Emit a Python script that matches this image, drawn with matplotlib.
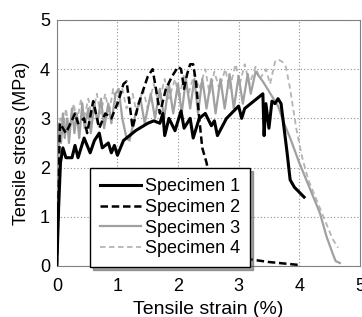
import matplotlib
matplotlib.use("Agg")
import matplotlib.pyplot as plt

plt.rcParams["font.family"] = ["Liberation Sans", "DejaVu Sans"]

# Specimen 1 (solid black)
s1_x = [0, 0.03, 0.06, 0.1, 0.15, 0.25, 0.3, 0.35, 0.45, 0.55, 0.62, 0.7, 0.75, 0.85,
        0.9, 0.95, 1.0, 1.1, 1.3, 1.5, 1.6, 1.7, 1.75, 1.78, 1.85, 1.95, 2.05, 2.1, 2.2,
        2.25, 2.35, 2.45, 2.55, 2.6, 2.65, 2.8, 3.0, 3.05, 3.1, 3.3, 3.4, 3.42, 3.45,
        3.5, 3.55, 3.6, 3.65, 3.7, 3.75, 3.8, 3.85, 3.92, 4.0, 4.08]
s1_y = [0, 1.2, 2.1, 2.4, 2.2, 2.2, 2.45, 2.2, 2.6, 2.3, 2.55, 2.7, 2.4, 2.5,
        2.3, 2.45, 2.25, 2.55, 2.75, 2.9, 2.95, 2.9, 3.1, 2.65, 3.0, 2.75, 3.15, 2.8, 3.0,
        2.6, 3.0, 3.1, 2.85, 2.95, 2.65, 3.0, 3.25, 3.0, 3.2, 3.4, 3.5, 2.65, 3.3,
        2.8, 3.35, 3.3, 3.4, 3.3, 2.8, 2.3, 1.75, 1.6, 1.5, 1.4]

# Specimen 2 (dashed black)
s2_x = [0, 0.03, 0.05, 0.15, 0.3, 0.35, 0.45, 0.5, 0.6, 0.7, 0.8, 0.9, 1.0, 1.1,
        1.15, 1.2, 1.25, 1.35, 1.5, 1.58, 1.65, 1.7, 1.8, 1.9, 2.0, 2.05, 2.1, 2.15,
        2.2, 2.25, 2.3, 2.35, 2.4, 2.47, 2.6, 2.75, 2.9, 3.1, 3.5, 4.0]
s2_y = [0, 1.5, 2.9, 2.7, 3.1, 2.9, 3.0, 2.7, 3.35, 2.8, 3.1, 3.0, 3.3, 3.7,
        3.75, 3.3, 2.8, 3.3, 3.85, 4.0, 3.5, 3.1, 3.6, 3.85, 4.05, 4.0, 3.6, 3.9,
        4.1, 4.1, 3.7, 3.0, 2.4, 2.1, 1.3, 0.6, 0.3, 0.15, 0.08, 0.02]

# Specimen 3 (grey solid)
s3_x = [0, 0.02, 0.04, 0.07, 0.1, 0.13, 0.17, 0.2, 0.25, 0.29, 0.33, 0.37, 0.42,
        0.46, 0.52, 0.56, 0.62, 0.67, 0.73, 0.78, 0.85, 0.9, 0.97, 1.02, 1.08, 1.15,
        1.2, 1.3, 1.38, 1.45, 1.55, 1.62, 1.7, 1.77, 1.85, 1.92, 2.0, 2.06, 2.13, 2.2,
        2.27, 2.33, 2.4, 2.47, 2.55, 2.62, 2.7, 2.77, 2.85, 2.92, 3.0, 3.07, 3.15,
        3.2, 3.28, 3.4, 3.55, 3.65, 3.75, 3.85, 4.0, 4.15, 4.34, 4.45, 4.55, 4.6, 4.67]
s3_y = [0, 2.0, 2.9, 2.5, 3.1, 2.6, 3.0, 2.5, 3.2, 2.7, 3.1, 2.6, 3.3,
        2.8, 3.2, 2.7, 3.3, 2.9, 3.4, 2.8, 3.3, 2.9, 3.5, 3.6, 3.0, 2.6,
        2.55, 3.1, 3.4, 2.9, 3.5, 3.0, 3.6, 3.0, 3.7, 3.1, 3.7, 3.1, 3.8, 3.2,
        3.8, 3.1, 3.8, 3.2, 3.8, 3.1, 3.8, 3.2, 3.9, 3.2, 3.85, 3.3, 3.9,
        3.5, 3.95, 3.75, 3.45, 3.25, 2.9, 2.6, 2.1, 1.65, 1.08, 0.6, 0.26, 0.1, 0.06]

# Specimen 4 (grey dashed)
s4_x = [0, 0.03, 0.06, 0.1, 0.15, 0.2, 0.28, 0.33, 0.4, 0.45, 0.52, 0.58, 0.66,
        0.72, 0.8, 0.86, 0.93, 1.0, 1.08, 1.15, 1.25, 1.32, 1.42, 1.5, 1.6, 1.68,
        1.78, 1.85, 1.95, 2.02, 2.1, 2.17, 2.27, 2.35, 2.45, 2.52, 2.6, 2.68, 2.78,
        2.85, 2.95, 3.02, 3.1, 3.18, 3.28, 3.35, 3.45, 3.52, 3.6, 3.65, 3.72, 3.78,
        3.85, 3.95, 4.05, 4.15, 4.3, 4.45, 4.55, 4.64]
s4_y = [0, 2.5, 3.0, 2.7, 3.2, 2.8, 3.3, 2.9, 3.4, 3.0, 3.4, 3.0, 3.5,
        3.1, 3.5, 3.1, 3.6, 3.2, 3.6, 3.2, 3.5, 3.1, 3.6, 3.2, 3.7, 3.3,
        3.8, 3.4, 3.8, 3.4, 3.9, 3.5, 3.9, 3.6, 4.0, 3.5, 3.95, 3.6, 4.0,
        3.6, 4.1, 3.7, 4.1, 3.7, 4.05, 3.8, 4.0, 3.7, 4.15, 4.2, 4.15, 4.05,
        3.6, 2.8, 2.2, 1.75, 1.3, 0.85, 0.55, 0.37]

fig = plt.figure(figsize=(3.62, 3.17), dpi=100)
ax = fig.add_axes([0.157, 0.161, 0.837, 0.776])

ax.plot(s4_x, s4_y, color="#b4b4b4", lw=1.3, ls=(0, (3, 2)), label="Specimen 4", zorder=2)
ax.plot(s3_x, s3_y, color="#a0a0a0", lw=1.6, label="Specimen 3", zorder=3)
ax.plot(s2_x, s2_y, color="black", lw=1.8, ls=(0, (3, 1.5)), label="Specimen 2", zorder=4)
ax.plot(s1_x, s1_y, color="black", lw=2.2, label="Specimen 1", zorder=5)

ax.set_xlim(0, 5)
ax.set_ylim(0, 5)
ax.set_xticks([0, 1, 2, 3, 4, 5])
ax.set_yticks([0, 1, 2, 3, 4, 5])
ax.grid(True, ls=(0, (1, 2)), color="#909090", lw=0.8)
ax.tick_params(labelsize=13, length=0)
ax.tick_params(axis="x", pad=9)
ax.tick_params(axis="y", pad=5)
for sp in ax.spines.values():
    sp.set_color("#808080")
    sp.set_linewidth(0.8)

ax.set_xlabel("Tensile strain (%)", fontsize=14, labelpad=4)
ax.set_ylabel("Tensile stress (MPa)", fontsize=13, labelpad=7)

handles, labels = ax.get_legend_handles_labels()
order = [3, 2, 1, 0]
leg = ax.legend([handles[i] for i in order], [labels[i] for i in order],
                loc="lower left", bbox_to_anchor=(0.109, -0.005), fontsize=13,
                handlelength=2.3, handletextpad=0.2, labelspacing=0.2,
                borderpad=0.55, borderaxespad=0, fancybox=False, shadow=True,
                framealpha=1, edgecolor="black")
leg.get_frame().set_linewidth(1.0)
leg.set_zorder(10)

fig.savefig("out.png", dpi=100)
